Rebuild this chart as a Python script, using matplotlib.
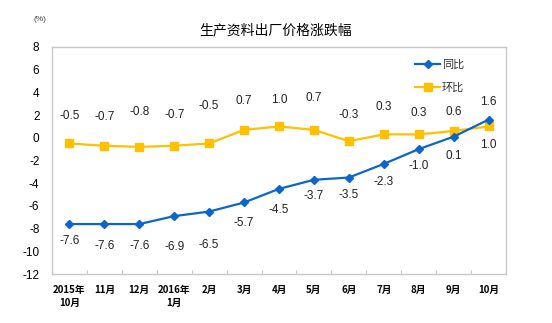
import numpy as np
import matplotlib
matplotlib.use('Agg')
import matplotlib.pyplot as plt

plt.rcParams['font.family'] = ['Liberation Sans', 'Noto Sans CJK SC', 'DejaVu Sans']
plt.rcParams['axes.unicode_minus'] = False

# data
months = ['2015年\n10月', '11月', '12月', '2016年\n1月', '2月', '3月', '4月',
          '5月', '6月', '7月', '8月', '9月', '10月']
yoy = [-7.6, -7.6, -7.6, -6.9, -6.5, -5.7, -4.5, -3.7, -3.5, -2.3, -1.0, 0.1, 1.6]
mom = [-0.5, -0.7, -0.8, -0.7, -0.5, 0.7, 1.0, 0.7, -0.3, 0.3, 0.3, 0.6, 1.0]

# label offsets in pixels (layout only)
yoy_off = [-17, -22, -22, -31, -33, -21, -21, -16, -17, -18, -17, -19, 18]
mom_off = [27, 29, 35, 31, 37, 29, 26, 32, 26, 27, 21, 19, -19]

blue = '#0a66cc'
yellow = '#ffc000'

fig = plt.figure(figsize=(5.52, 3.23), dpi=100)
ax = fig.add_axes([0.0942, 0.1517, 0.8225, 0.7028])

x = np.arange(len(months))
ax.plot(x, yoy, color=blue, lw=1.6, marker='D', ms=4, label='同比', zorder=3)
ax.plot(x, mom, color=yellow, lw=1.6, marker='s', ms=5.5, label='环比', zorder=2)

for i in range(len(x)):
    ax.annotate('%.1f' % yoy[i], (x[i], yoy[i]), textcoords='offset pixels',
                xytext=(0, yoy_off[i]), ha='center', va='center', fontsize=8.5,
                color='#222222')
    ax.annotate('%.1f' % mom[i], (x[i], mom[i]), textcoords='offset pixels',
                xytext=(0, mom_off[i]), ha='center', va='center', fontsize=8.5,
                color='#222222')

ax.set_xlim(-0.5, len(months) - 0.5)
ax.set_ylim(-12, 8)
ax.set_yticks(np.arange(-12, 9, 2))
ax.tick_params(axis='y', length=0, labelsize=8.5, pad=9)
ax.set_xticks(x)
ax.set_xticklabels(months, fontsize=7, fontweight='bold', linespacing=1.3,
                   family=['Noto Sans CJK SC', 'DejaVu Sans'], va='top')
ax.tick_params(axis='x', length=0, pad=8)
ax.set_xticks(np.arange(0.5, len(months) - 1, 1), minor=True)
ax.tick_params(axis='x', which='minor', direction='in', length=3, color='#bbbbbb')

for s in ax.spines.values():
    s.set_color('#c8c8c8')
    s.set_linewidth(1)

leg = ax.legend(loc='upper right', bbox_to_anchor=(0.93, 0.99), frameon=False,
                handlelength=2.2, labelspacing=1.2, handletextpad=0.2,
                prop={'family': ['Noto Sans CJK SC'], 'size': 8})
for t in leg.get_texts():
    t.set_color('#333333')

fig.text(0.5, 0.905, '生产资料出厂价格涨跌幅', ha='center', va='center', fontsize=10,
         family=['Noto Sans CJK SC'])
fig.text(0.072, 0.94, '(%)', ha='center', va='center', fontsize=6, color='#444444')

plt.savefig('out.png', dpi=100)
